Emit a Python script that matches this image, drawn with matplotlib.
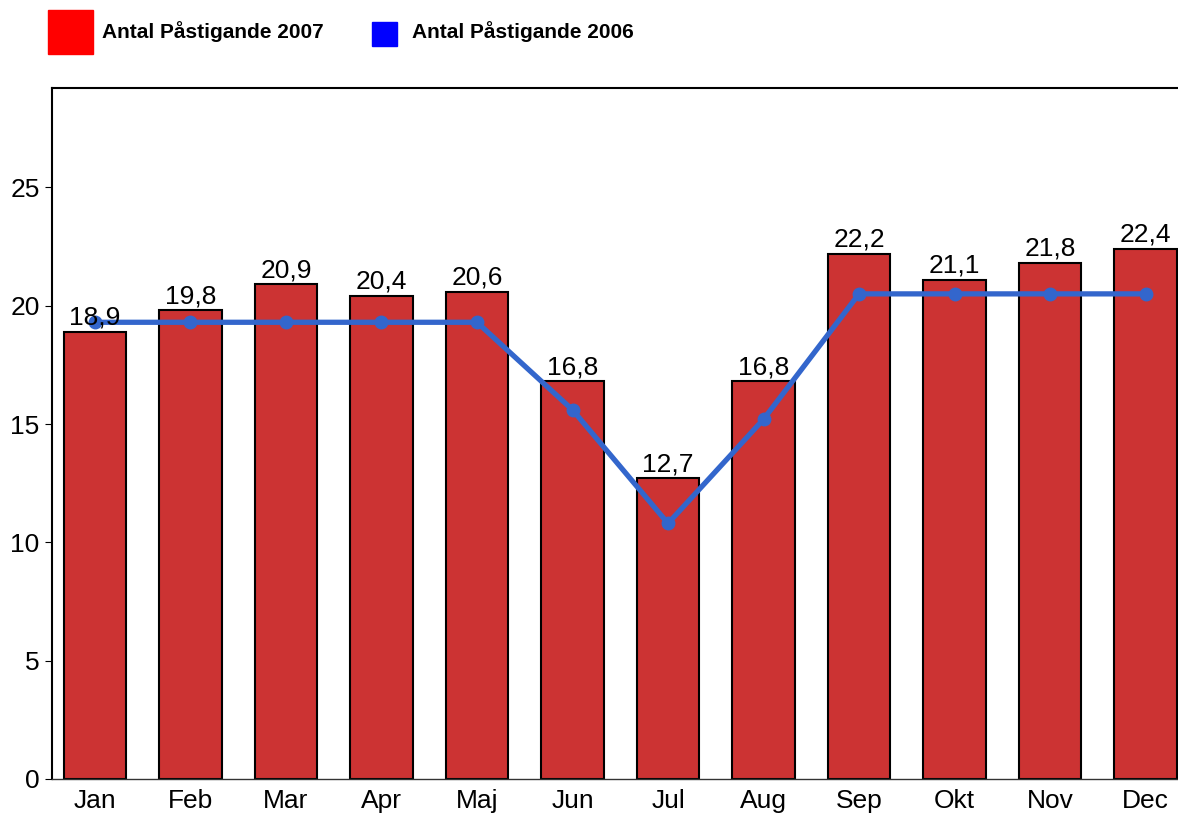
import matplotlib
matplotlib.use("Agg")
import matplotlib.pyplot as plt
from matplotlib.patches import Rectangle

plt.rcParams['font.family'] = ['Liberation Sans', 'DejaVu Sans']

months = ['Jan', 'Feb', 'Mar', 'Apr', 'Maj', 'Jun', 'Jul', 'Aug', 'Sep', 'Okt', 'Nov', 'Dec']
values_2007 = [18.9, 19.8, 20.9, 20.4, 20.6, 16.8, 12.7, 16.8, 22.2, 21.1, 21.8, 22.4]
values_2006 = [19.3, 19.3, 19.3, 19.3, 19.3, 15.6, 10.8, 15.2, 20.5, 20.5, 20.5, 20.5]

fig = plt.figure(figsize=(11.78, 8.14), dpi=100)
ax = fig.add_axes([52 / 1178, 1 - 779 / 814, 1 - 52 / 1178, (779 - 88) / 814])

x = range(len(months))
ax.bar(x, values_2007, width=0.65, color='#CC3333', edgecolor='black', linewidth=1.5, zorder=2)
ax.plot(x, values_2006, color='#3366CC', linewidth=3.8, marker='o', markersize=9, zorder=3)

for xi, v in zip(x, values_2007):
    ax.text(xi, v + 0.1, f"{v:.1f}".replace('.', ','), ha='center', va='bottom', fontsize=19, zorder=4)

ax.set_xlim(-0.45, 11.34)
ax.set_ylim(0, 29.2)
ax.set_yticks([0, 5, 10, 15, 20, 25])
ax.set_xticks(list(x))
ax.set_xticklabels(months)
ax.tick_params(axis='x', length=0, labelsize=19, pad=7)
ax.tick_params(axis='y', length=5, labelsize=19, pad=4)
ax.spines['right'].set_visible(False)
ax.spines['top'].set_linewidth(1.5)
ax.spines['left'].set_linewidth(1.5)
ax.spines['bottom'].set_linewidth(1.0)
ax.spines['bottom'].set_color('#333333')

# legend drawn in figure coordinates
W, H = 1178, 814
fig.patches.append(Rectangle((48 / W, 1 - 54 / H), 45 / W, 44 / H, transform=fig.transFigure, color='#FF0000'))
fig.text(102 / W, 1 - 32 / H, 'Antal Påstigande 2007', fontsize=15, fontweight='bold', va='center')
fig.patches.append(Rectangle((372 / W, 1 - 46 / H), 25 / W, 24 / H, transform=fig.transFigure, color='#0000FF'))
fig.text(412 / W, 1 - 32 / H, 'Antal Påstigande 2006', fontsize=15, fontweight='bold', va='center')

fig.savefig('out.png', dpi=100)
